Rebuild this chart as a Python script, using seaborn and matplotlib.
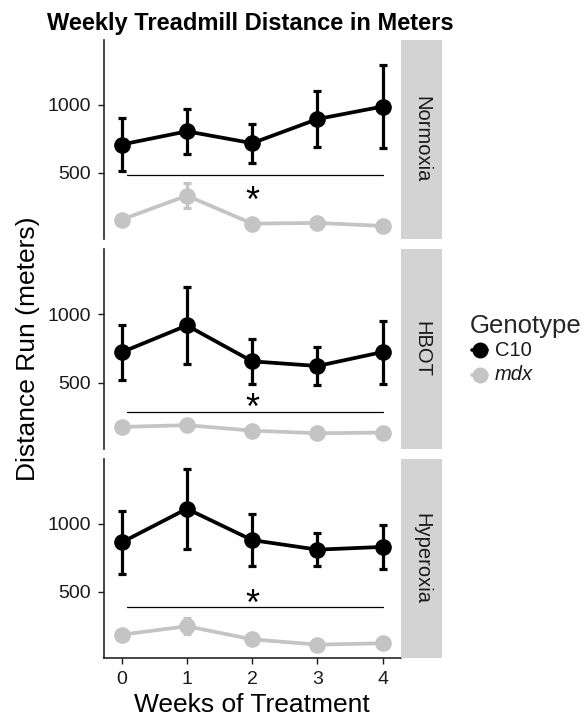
import numpy as np
import pandas as pd
import matplotlib
matplotlib.use("Agg")
import matplotlib.pyplot as plt
import seaborn as sns
from matplotlib.lines import Line2D

# ---------------- data ----------------
weeks = [0, 1, 2, 3, 4]
conditions = ["Normoxia", "HBOT", "Hyperoxia"]
genotypes = ["C10", "mdx"]

normoxia_c10_mean = [708, 805, 718, 895, 987]
normoxia_c10_sd = [195, 165, 142, 203, 303]
normoxia_mdx_mean = [157, 333, 128, 133, 111]
normoxia_mdx_sd = [20, 90, 15, 15, 12]

hbot_c10_mean = [721, 917, 655, 621, 723]
hbot_c10_sd = [199, 280, 162, 140, 230]
hbot_mdx_mean = [176, 189, 149, 130, 135]
hbot_mdx_sd = [25, 25, 20, 18, 18]

hyperoxia_c10_mean = [863, 1110, 880, 810, 830]
hyperoxia_c10_sd = [234, 294, 190, 120, 160]
hyperoxia_mdx_mean = [186, 248, 152, 113, 123]
hyperoxia_mdx_sd = [20, 58, 20, 15, 15]

sig_line_y = [486, 288, 386]
star_y = [353, 373, 471]

y_ticks = [500, 1000]
x_ticks = [0, 1, 2, 3, 4]

rows = []
series = {
    ("Normoxia", "C10"): (normoxia_c10_mean, normoxia_c10_sd),
    ("Normoxia", "mdx"): (normoxia_mdx_mean, normoxia_mdx_sd),
    ("HBOT", "C10"): (hbot_c10_mean, hbot_c10_sd),
    ("HBOT", "mdx"): (hbot_mdx_mean, hbot_mdx_sd),
    ("Hyperoxia", "C10"): (hyperoxia_c10_mean, hyperoxia_c10_sd),
    ("Hyperoxia", "mdx"): (hyperoxia_mdx_mean, hyperoxia_mdx_sd),
}
for (cond, gen), (m, s) in series.items():
    for w, mv, sv in zip(weeks, m, s):
        rows.append(dict(Condition=cond, Genotype=gen, Week=w, Mean=mv, SD=sv))
df = pd.DataFrame(rows)

# ---------------- style ----------------
sns.set_theme(style="ticks")
plt.rcParams["font.family"] = ["Liberation Sans", "DejaVu Sans"]

palette = {"C10": "#000000", "mdx": "#C4C4C4"}
W, H = 588, 717
fig = plt.figure(figsize=(W / 100, H / 100), dpi=100)

def fx(x):
    return x / W

def fy(y):
    return 1 - y / H

panel_px = [(40, 239), (249, 449), (459, 658)]
ax_left, ax_right = 104, 401
strip_right = 442

axes = []
for i, (cond, (top, bot)) in enumerate(zip(conditions, panel_px)):
    ax = fig.add_axes([fx(ax_left), fy(bot), fx(ax_right - ax_left), (bot - top) / H])
    axes.append(ax)
    sub = df[df.Condition == cond]
    sns.lineplot(data=sub, x="Week", y="Mean", hue="Genotype", hue_order=genotypes,
                 palette=palette, marker="o", markersize=12, markeredgewidth=0,
                 linewidth=2.7, errorbar=None, legend=False, ax=ax)
    for gen in genotypes:
        g = sub[sub.Genotype == gen]
        ax.errorbar(g.Week, g.Mean, yerr=g.SD, fmt="none", ecolor=palette[gen],
                    elinewidth=2.3, capsize=2.6, capthick=2.3, zorder=3)
    ax.plot([0.08, 4.0], [sig_line_y[i]] * 2, color="black", lw=0.9)
    ax.annotate("*", xy=(2, star_y[i]), xytext=(0, -13.5), textcoords="offset points",
                ha="center", va="baseline", fontsize=26, color="black")
    ax.set_xlim(-0.27, 4.28)
    ax.set_ylim(15, 1475)
    ax.set_yticks(y_ticks)
    ax.set_yticklabels([str(t) for t in y_ticks])
    ax.set_xlabel("")
    ax.set_ylabel("")
    ax.tick_params(axis="y", length=4.5, width=1.0, pad=5, labelsize=14,
                   colors="#1a1a1a")
    ax.spines["top"].set_visible(False)
    ax.spines["right"].set_visible(False)
    ax.spines["left"].set_linewidth(1.2)
    if i < 2:
        ax.spines["bottom"].set_visible(False)
        ax.set_xticks([])
    else:
        ax.spines["bottom"].set_linewidth(1.2)
        ax.set_xticks(x_ticks)
        ax.set_xticklabels([str(t) for t in x_ticks])
        ax.tick_params(axis="x", length=4.5, width=1.0, pad=5, labelsize=14,
                       colors="#1a1a1a")
    ax.set_facecolor("white")

    # strip
    sax = fig.add_axes([fx(ax_right), fy(bot), fx(strip_right - ax_right), (bot - top) / H])
    sax.set_facecolor("#D3D3D3")
    sax.set_xticks([])
    sax.set_yticks([])
    for s in sax.spines.values():
        s.set_visible(False)
    sax.text(0.5, 0.5, cond, rotation=270, ha="center", va="center",
             fontsize=14.5, color="#1a1a1a", transform=sax.transAxes)

# labels
fig.text(fx(47), fy(30), "Weekly Treadmill Distance in Meters", ha="left",
         va="baseline", fontsize=17, fontweight="bold", color="black")
fig.text(fx(252), fy(712), "Weeks of Treatment", ha="center", va="baseline",
         fontsize=19, color="black")
fig.text(fx(28), fy(349), "Distance Run (meters)", rotation=90, ha="center",
         va="center", fontsize=19, color="black")

# legend
fig.text(fx(470), fy(333), "Genotype", ha="left", va="baseline", fontsize=18.5)
for yy, gen, label, style in [(350, "C10", "C10", "normal"), (375, "mdx", "mdx", "italic")]:
    fig.add_artist(Line2D([fx(472), fx(487)], [fy(yy), fy(yy)], color=palette[gen],
                          lw=2.6, transform=fig.transFigure))
    fig.add_artist(Line2D([fx(479.5)], [fy(yy)], color=palette[gen], marker="o",
                          markersize=11.5, markeredgewidth=0, transform=fig.transFigure))
    fig.text(fx(495), fy(yy), label, ha="left", va="center", fontsize=14.5,
             style=style, color="#1a1a1a")

fig.savefig("out.png", dpi=100)
